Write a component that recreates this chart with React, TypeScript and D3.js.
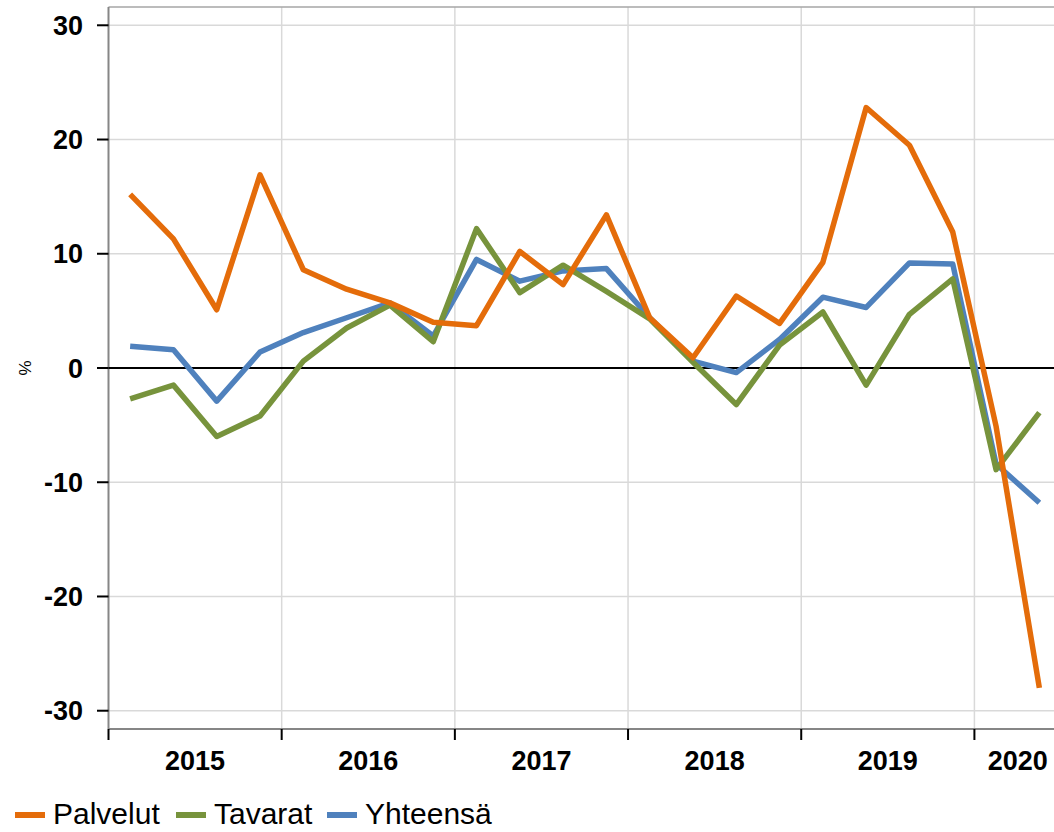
import * as d3 from "d3";

const years = ["2015", "2016", "2017", "2018", "2019", "2020"];
const quarters = [
  "2015Q1", "2015Q2", "2015Q3", "2015Q4",
  "2016Q1", "2016Q2", "2016Q3", "2016Q4",
  "2017Q1", "2017Q2", "2017Q3", "2017Q4",
  "2018Q1", "2018Q2", "2018Q3", "2018Q4",
  "2019Q1", "2019Q2", "2019Q3", "2019Q4",
  "2020Q1", "2020Q2",
];
const palvelut = [
  15.2, 11.3, 5.1, 16.9, 8.6, 6.9, 5.7, 4.0, 3.7, 10.2, 7.3, 13.4,
  4.4, 0.9, 6.3, 3.9, 9.25, 22.8, 19.5, 11.9, -5.1, -28.0,
];
const tavarat = [
  -2.7, -1.5, -6.0, -4.2, 0.6, 3.5, 5.5, 2.3, 12.2, 6.6, 9.0, 6.7,
  4.3, 0.5, -3.2, 2.0, 4.9, -1.5, 4.7, 7.8, -8.9, -3.9,
];
const yhteensa = [
  1.9, 1.6, -2.9, 1.4, 3.1, 4.4, 5.7, 2.8, 9.5, 7.6, 8.5, 8.7,
  4.4, 0.6, -0.4, 2.5, 6.2, 5.3, 9.2, 9.1, -8.4, -11.8,
];
const yTicks = [30, 20, 10, 0, -10, -20, -30];

const series = [
  { name: "Yhteensä", values: yhteensa, color: "#4F81BD" },
  { name: "Tavarat", values: tavarat, color: "#77933C" },
  { name: "Palvelut", values: palvelut, color: "#E46C0A" },
];
const legendOrder = ["Palvelut", "Tavarat", "Yhteensä"];

const W = 1054;
const H = 832;
const left = 108.5;
const right = 1061;
const top = 7;
const bottom = 729;
const font = "'Liberation Sans', Arial, sans-serif";

export default function App() {
  const x = d3.scaleBand().domain(quarters).range([left, right]).padding(0);
  const y = d3.scaleLinear().domain([-31.6, 31.6]).range([bottom, top]);
  const cx = (i: number) => (x(quarters[i]) as number) + x.bandwidth() / 2;

  const line = d3
    .line<number>()
    .x((_, i) => cx(i))
    .y((d) => y(d));

  // year boundaries: first quarter of each year
  const yearStart = years.map((yr) => x(yr + "Q1") as number);
  const yearEnd = years.map((yr, i) =>
    i < years.length - 1 ? yearStart[i + 1] : right
  );

  const legendX = [15, 176, 327];

  return (
    <svg
      width={W}
      height={H}
      style={{ position: "absolute", left: 0, top: 0, display: "block" }}
      fontFamily={font}
    >
      <rect width={W} height={H} fill="#fff" />
      {/* grid */}
      {yTicks.map((t) => (
        <line
          key={"g" + t}
          x1={left}
          x2={right}
          y1={y(t)}
          y2={y(t)}
          stroke="#d9d9d9"
          strokeWidth={1.5}
        />
      ))}
      {yearStart.slice(1).map((xx, i) => (
        <line
          key={"v" + i}
          x1={xx}
          x2={xx}
          y1={top}
          y2={bottom}
          stroke="#d9d9d9"
          strokeWidth={1.5}
        />
      ))}
      {/* border */}
      <line x1={left} x2={right} y1={top} y2={top} stroke="#a6a6a6" strokeWidth={1.5} />
      <line x1={left} x2={left} y1={top} y2={bottom} stroke="#868686" strokeWidth={2} />
      <line x1={left} x2={right} y1={bottom} y2={bottom} stroke="#868686" strokeWidth={2} />
      {/* zero line */}
      <line x1={left} x2={right} y1={y(0)} y2={y(0)} stroke="#000" strokeWidth={2} />

      {/* y axis */}
      {yTicks.map((t) => (
        <g key={"t" + t}>
          <line x1={97} x2={left} y1={y(t)} y2={y(t)} stroke="#000" strokeWidth={2} />
          <text
            x={83}
            y={y(t)}
            dy="0.36em"
            textAnchor="end"
            fontSize={27}
            fontWeight="bold"
            fill="#000"
          >
            {t}
          </text>
        </g>
      ))}
      <text
        transform={`translate(31,${y(0)}) rotate(-90)`}
        textAnchor="middle"
        fontSize={17}
        fill="#000"
      >
        %
      </text>

      {/* x axis */}
      {yearStart.map((xx, i) => (
        <line key={"xt" + i} x1={xx} x2={xx} y1={bottom} y2={740} stroke="#000" strokeWidth={2} />
      ))}
      {years.map((yr, i) => (
        <text
          key={yr}
          x={(yearStart[i] + yearEnd[i]) / 2}
          y={770}
          textAnchor="middle"
          fontSize={27}
          fontWeight="bold"
          fill="#000"
        >
          {yr}
        </text>
      ))}

      {/* lines */}
      {series.map((s) => (
        <path
          key={s.name}
          d={line(s.values) || ""}
          fill="none"
          stroke={s.color}
          strokeWidth={5.5}
          strokeLinejoin="round"
        />
      ))}

      {/* legend */}
      {legendOrder.map((name, i) => {
        const s = series.find((d) => d.name === name)!;
        return (
          <g key={"l" + name}>
            <rect x={legendX[i]} y={812} width={30} height={6} fill={s.color} />
            <text x={legendX[i] + 38} y={824} fontSize={30} fill="#000">
              {name}
            </text>
          </g>
        );
      })}
    </svg>
  );
}
